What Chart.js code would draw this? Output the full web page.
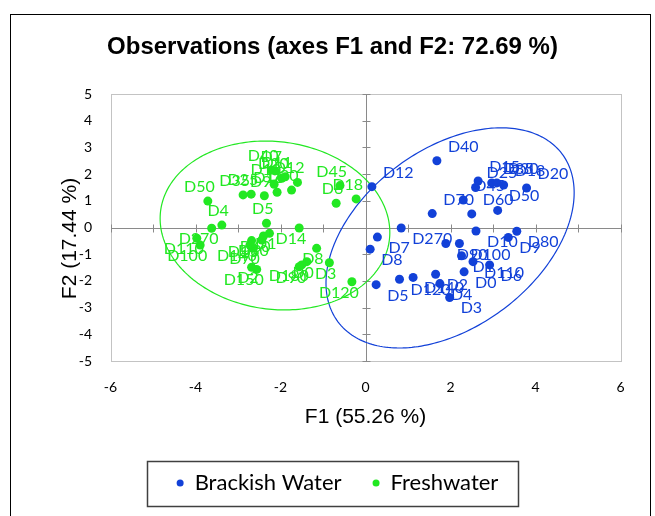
<!DOCTYPE html>
<html><head><meta charset="utf-8">
<script src="https://cdn.jsdelivr.net/npm/chart.js@4"></script>
<style>html,body{margin:0;padding:0;background:#fff}</style>
</head><body>
<canvas id="c" width="655" height="516"></canvas>
<script>
const chartTitle = 'Observations (axes F1 and F2: 72.69 %)';
const xTitle = 'F1 (55.26 %)';
const yTitle = 'F2 (17.44 %)';
const seriesNames = ['Brackish Water', 'Freshwater'];
const xRange = [-6, 6]; const xTickStep = 2;
const yRange = [-5, 5]; const yTickStep = 1;

const brackishLabels = ['D40','D12','D15','D25','D35','D30','D18','D20','D45','D70','D60','D50','D270','D7','D8','D10','D80','D9','D90','D100','D1','D110','D6','D0','D2','D140','D120','D5','D4','D3'];
const brackishF1 = [1.68,0.15,2.65,2.59,2.97,3.09,3.25,3.79,2.30,1.57,2.50,3.11,0.84,0.28,0.11,2.60,3.56,3.36,1.89,2.21,2.26,2.53,2.92,2.32,1.65,1.12,0.80,0.25,1.75,1.98];
const brackishF2 = [2.50,1.53,1.74,1.50,1.67,1.67,1.59,1.48,1.03,0.52,0.51,0.64,-0.02,-0.36,-0.81,-0.13,-0.14,-0.37,-0.60,-0.60,-1.06,-1.28,-1.40,-1.66,-1.75,-1.87,-1.94,-2.14,-2.10,-2.62];

const freshLabels = ['D50','D4','D270','D35','D25','D9','D10','D16','D40','D7','D20','D11','D30','D12','D5','D14','D6','D45','D18','D110','D100','D1','D60','D80','D15','D140','D70','D8','D0','D180','D90','D3','D120','D2','D150'];
const freshF1 = [-3.71,-3.38,-3.62,-2.88,-2.69,-2.38,-2.15,-2.08,-2.21,-2.13,-1.97,-1.89,-1.74,-1.60,-2.33,-1.56,-0.69,-0.60,-0.22,-3.97,-3.89,-2.26,-2.40,-2.44,-2.68,-2.72,-2.65,-1.15,-1.38,-1.50,-1.56,-0.85,-0.32,-2.68,-2.56];
const freshF2 = [0.99,0.09,-0.03,1.22,1.25,1.19,1.62,1.32,2.15,2.12,1.84,1.90,1.40,1.69,0.16,-0.02,0.91,1.57,1.07,-0.40,-0.66,-0.22,-0.32,-0.47,-0.49,-0.66,-0.78,-0.78,-1.28,-1.40,-1.47,-1.32,-2.03,-1.49,-1.57];

// confidence ellipses (centre, semi-axes, rotation in degrees, data units)
const brackishEllipse = {cx: 1.99, cy: -0.39, a: 4.39, b: 2.50, angle: 65.3};
const freshEllipse = {cx: -2.13, cy: 0.075, a: 3.19, b: 2.67, angle: 103.8};

const BLUE = '#1241d8';
const GREEN = '#22e822';
const LABEL_FONT = '16px Lato';

function drawEllipse(ctx, xs, ys, e, color) {
  const th = e.angle * Math.PI / 180;
  ctx.beginPath();
  for (let i = 0; i <= 240; i++) {
    const t = i / 240 * 2 * Math.PI;
    const dx = e.a * Math.cos(t), dy = e.b * Math.sin(t);
    const X = e.cx + dx * Math.cos(th) - dy * Math.sin(th);
    const Y = e.cy + dx * Math.sin(th) + dy * Math.cos(th);
    const px = xs.getPixelForValue(X), py = ys.getPixelForValue(Y);
    if (i === 0) ctx.moveTo(px, py); else ctx.lineTo(px, py);
  }
  ctx.closePath();
  ctx.strokeStyle = color; ctx.lineWidth = 1.2; ctx.stroke();
}

const decor = {
  id: 'decor',
  afterLayout(chart) {
    chart.legend.left += 5; chart.legend.right += 5;
    const ys = chart.scales.y;
    if (!ys._titleShifted) {
      const orig = ys.drawTitle;
      ys.drawTitle = function () {
        this.ctx.save();
        this.ctx.translate(0, 11);
        orig.call(this);
        this.ctx.restore();
      };
      ys._titleShifted = true;
    }
  },
  beforeDraw(chart) {
    const ctx = chart.ctx;
    ctx.save();
    ctx.fillStyle = '#fff'; ctx.fillRect(0, 0, chart.width, chart.height);
    ctx.strokeStyle = '#000'; ctx.lineWidth = 1;
    ctx.strokeRect(10.5, 14.5, 640, 530);
    ctx.restore();
  },
  beforeDatasetsDraw(chart) {
    const {ctx, chartArea: ca, scales: {x, y}} = chart;
    ctx.save();
    ctx.strokeStyle = '#c3c3c3'; ctx.lineWidth = 1;
    const L = Math.round(ca.left) + 0.5, T = Math.round(ca.top) + 0.5;
    const R = Math.round(ca.right) + 0.5, B = Math.round(ca.bottom) + 0.5;
    ctx.strokeRect(L, T, R - L, B - T);
    const x0 = Math.round(x.getPixelForValue(0)) + 0.5, y0 = Math.round(y.getPixelForValue(0)) + 0.5;
    ctx.strokeStyle = '#8a8a8a';
    ctx.beginPath();
    ctx.moveTo(x0, T); ctx.lineTo(x0, B);
    ctx.moveTo(L, y0); ctx.lineTo(R, y0);
    for (let v = yRange[0]; v <= yRange[1]; v++) {
      const py = Math.round(y.getPixelForValue(v)) + 0.5;
      ctx.moveTo(x0 - 4, py); ctx.lineTo(x0 + 4, py);
    }
    for (let v = xRange[0]; v <= xRange[1]; v++) {
      const px = Math.round(x.getPixelForValue(v)) + 0.5;
      ctx.moveTo(px, y0 - 4); ctx.lineTo(px, y0 + 4);
    }
    ctx.stroke();
    drawEllipse(ctx, x, y, brackishEllipse, BLUE);
    drawEllipse(ctx, x, y, freshEllipse, GREEN);
    ctx.restore();
  },
  afterDatasetsDraw(chart) {
    const ctx = chart.ctx;
    ctx.save();
    ctx.font = LABEL_FONT;
    chart.data.datasets.forEach((ds, di) => {
      const meta = chart.getDatasetMeta(di);
      ctx.fillStyle = ds.borderColor;
      meta.data.forEach((pt, i) => {
        const d = ds.data[i];
        let tx;
        if (d.x < 0) { ctx.textAlign = 'right'; tx = pt.x + 7; }
        else { ctx.textAlign = 'left'; tx = pt.x + 11; }
        ctx.textBaseline = 'alphabetic';
        const ty = d.y >= 0 ? pt.y - 9 : pt.y + 16;
        ctx.fillText(ds.names[i], tx, ty);
      });
    });
    ctx.restore();
  },
  afterDraw(chart) {
    const hb = chart.legend.legendHitBoxes;
    if (!hb || !hb.length) return;
    const ctx = chart.ctx;
    const first = hb[0], last = hb[hb.length - 1];
    const cy = first.top + first.height / 2;
    const left = Math.round(first.left - 30) + 0.5;
    const right = Math.round(last.left + last.width + 20) + 0.5;
    ctx.save();
    ctx.strokeStyle = '#404040'; ctx.lineWidth = 1.5;
    ctx.strokeRect(left, Math.round(cy - 22.5) + 0.5, right - left, 45);
    ctx.restore();
  }
};

new Chart(document.getElementById('c'), {
  type: 'scatter',
  data: {
    datasets: [
      {
        label: seriesNames[0],
        data: brackishF1.map((v, i) => ({x: v, y: brackishF2[i]})),
        names: brackishLabels,
        backgroundColor: BLUE, borderColor: BLUE, borderWidth: 0,
        pointRadius: 4.5, pointHoverRadius: 4.5
      },
      {
        label: seriesNames[1],
        data: freshF1.map((v, i) => ({x: v, y: freshF2[i]})),
        names: freshLabels,
        backgroundColor: GREEN, borderColor: GREEN, borderWidth: 0,
        pointRadius: 4.5, pointHoverRadius: 4.5
      }
    ]
  },
  options: {
    responsive: false, animation: false, devicePixelRatio: 1,
    events: [],
    layout: {padding: {left: 10, right: 0, top: 15, bottom: 12}},
    plugins: {
      title: {
        display: true, text: chartTitle, color: '#000',
        font: {family: '"Liberation Sans", Arial, sans-serif', size: 24, weight: 'bold'},
        padding: {top: 17.6, bottom: 32.6}
      },
      legend: {
        position: 'bottom',
        labels: {
          usePointStyle: true, pointStyle: 'circle', boxHeight: 5, pointStyleWidth: 7,
          padding: 31, color: '#000', font: {family: 'Lato', size: 22}
        }
      },
      tooltip: {enabled: false}
    },
    scales: {
      x: {
        type: 'linear', position: 'bottom', min: xRange[0], max: xRange[1],
        ticks: {stepSize: xTickStep, color: '#000', font: {family: 'Lato', size: 14}, padding: 18},
        grid: {display: false, drawTicks: false}, border: {display: false},
        title: {display: true, text: xTitle, color: '#000', font: {family: '"Liberation Sans", Arial, sans-serif', size: 21}, padding: {top: 0, bottom: 11}},
        afterFit(s) { s.height = 80; }
      },
      y: {
        type: 'linear', position: 'left', min: yRange[0], max: yRange[1],
        ticks: {stepSize: yTickStep, color: '#000', font: {family: 'Lato', size: 14}, padding: 18.5},
        grid: {display: false, drawTicks: false}, border: {display: false},
        title: {display: true, text: yTitle, color: '#000', font: {family: '"Liberation Sans", Arial, sans-serif', size: 21}, padding: {top: 47.4, bottom: 0}},
        afterFit(s) { s.width = 100.5; }
      },
      y2: {
        type: 'linear', position: 'right', display: true,
        ticks: {display: false}, grid: {display: false, drawTicks: false}, border: {display: false},
        afterFit(s) { s.width = 34.5; }
      }
    }
  },
  plugins: [decor]
});
</script>
</body></html>
